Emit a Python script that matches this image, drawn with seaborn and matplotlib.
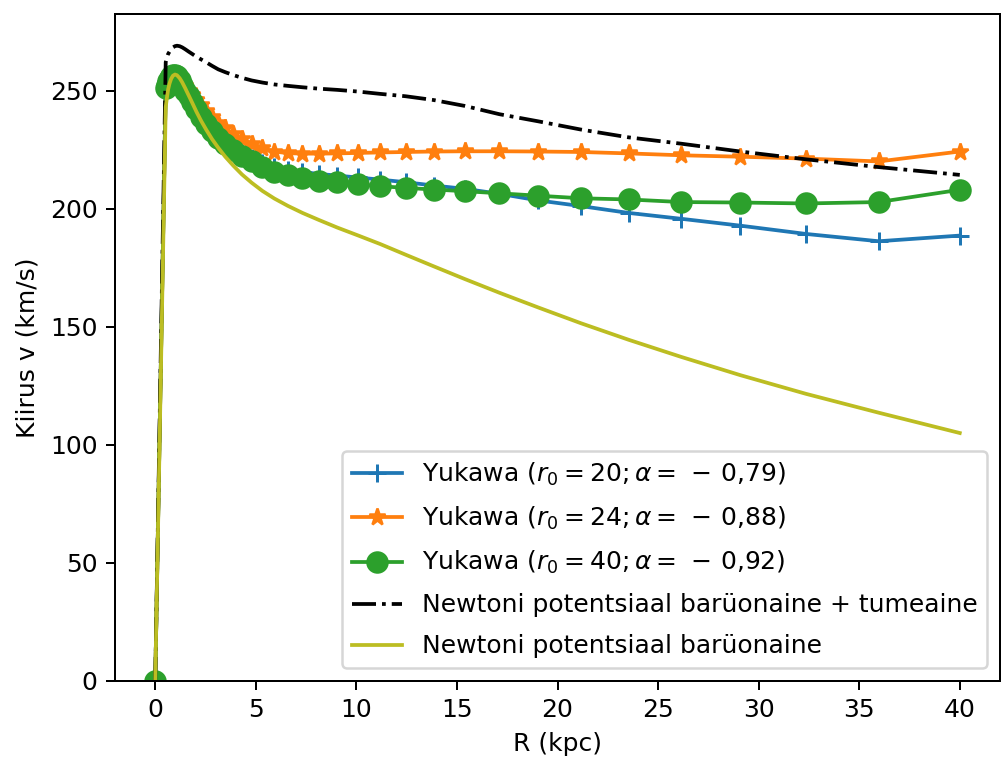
import numpy as np
import pandas as pd
import matplotlib
matplotlib.use('Agg')
import matplotlib.pyplot as plt
import seaborn as sns

# radius grid (kpc)
R = [0, 0.52, 0.58, 0.64, 0.71, 0.79, 0.88, 0.98, 1.08, 1.21, 1.34, 1.49, 1.66, 1.84,
     2.05, 2.28, 2.53, 2.82, 3.13, 3.48, 3.87, 4.31, 4.79, 5.33, 5.92, 6.59, 7.32, 8.14,
     9.05, 10.07, 11.19, 12.45, 13.84, 15.39, 17.11, 19.03, 21.16, 23.53, 26.16, 29.09,
     32.35, 35.97, 40.0]

v_yuk20 = [0, 251, 252.5, 254, 255.3, 256.2, 256.6, 256.6, 256, 254.6, 252.6, 250.3, 248,
           245.5, 242.7, 240, 237, 234, 231, 228.5, 226, 223.5, 221.5, 219.5, 217.8, 216.5,
           215.5, 214.7, 214, 213.2, 212.3, 211.2, 209.8, 208.4, 206.3, 203.5, 201.1, 198.2,
           195.7, 192.8, 189.3, 186.2, 188.6]

v_yuk24 = [0, 251, 252.5, 254, 255.5, 256.3, 256.8, 256.8, 256.3, 255.3, 253.8, 251.8, 249.8,
           248, 246.2, 243.8, 241.5, 238.8, 236.2, 234, 231.8, 229.6, 227.5, 225.6, 224.2,
           223.5, 223.3, 223.3, 223.4, 223.6, 223.8, 224.0, 224.2, 224.3, 224.3, 224.2, 224.0,
           223.4, 222.6, 222.0, 221.2, 220.0, 224.2]

v_yuk40 = [0, 251, 252.5, 254, 255.3, 256.2, 256.6, 256.6, 256, 254.5, 252.5, 250, 247.5,
           245, 242, 239, 236, 233, 230, 227.5, 225, 222.5, 220, 217.8, 215.7, 214.2, 212.9,
           211.9, 211.1, 210.3, 209.5, 208.8, 208.1, 207.4, 206.5, 205.5, 204.4, 203.9,
           202.8, 202.6, 202.2, 202.8, 208.0]

v_dm = [0, 262, 264, 265.5, 266.5, 267.5, 268.3, 268.8, 269, 268.8, 268.3, 267.5, 266.5,
        265.5, 264.3, 263.2, 262, 260.5, 259, 257.8, 256.6, 255.4, 254.3, 253.4, 252.6, 252,
        251.4, 250.8, 250.3, 249.6, 248.6, 247.6, 246, 243.5, 240, 237, 233.5, 230.2, 227.5,
        224.2, 220.9, 217.6, 214.3]

v_bar = [0, 243, 247, 250.5, 253, 255, 256.3, 256.8, 256.5, 255.3, 253.5, 251, 248, 244.8,
         241, 237.2, 233.5, 229.5, 225.8, 222, 218.3, 214.5, 211, 207.5, 204.3, 201.2, 198.2,
         195.2, 192, 188.7, 185, 180.5, 175.6, 170.2, 164.4, 158.2, 151.5, 144.5, 137.2,
         129.5, 121.6, 113.6, 105]

labels = [r'Yukawa ($r_0 = 20; \alpha = \,-\,0{,}79$)',
          r'Yukawa ($r_0 = 24; \alpha = \,-\,0{,}88$)',
          r'Yukawa ($r_0 = 40; \alpha = \,-\,0{,}92$)',
          'Newtoni potentsiaal barüonaine + tumeaine',
          'Newtoni potentsiaal barüonaine']

df = pd.DataFrame({'R': R, 'y20': v_yuk20, 'y24': v_yuk24, 'y40': v_yuk40,
                   'dm': v_dm, 'bar': v_bar})

fig = plt.figure(figsize=(1002 / 180, 758 / 180), dpi=180)
ax = fig.add_axes([0.1148, 0.1016, 0.8832, 0.88])

sns.lineplot(data=df, x='R', y='y20', ax=ax, color='#1f77b4', marker='+', markersize=7,
             markeredgewidth=1.2, markeredgecolor='#1f77b4', label=labels[0], sort=False)
sns.lineplot(data=df, x='R', y='y24', ax=ax, color='#ff7f0e', marker='*', markersize=7,
             markeredgecolor='#ff7f0e', markeredgewidth=1, label=labels[1], sort=False)
sns.lineplot(data=df, x='R', y='y40', ax=ax, color='#2ca02c', marker='o', markersize=8,
             markeredgecolor='#2ca02c', markeredgewidth=1, label=labels[2], sort=False)
sns.lineplot(data=df, x='R', y='dm', ax=ax, color='k', linestyle='-.', label=labels[3],
             sort=False)
sns.lineplot(data=df, x='R', y='bar', ax=ax, color='#bcbd22', label=labels[4], sort=False)

ax.set_ylim(bottom=0)
ax.set_xlabel('R (kpc)')
ax.set_ylabel('Kiirus v (km/s)')
ax.legend(loc='lower right', labelspacing=0.68)

fig.savefig('out.png', dpi=180)
